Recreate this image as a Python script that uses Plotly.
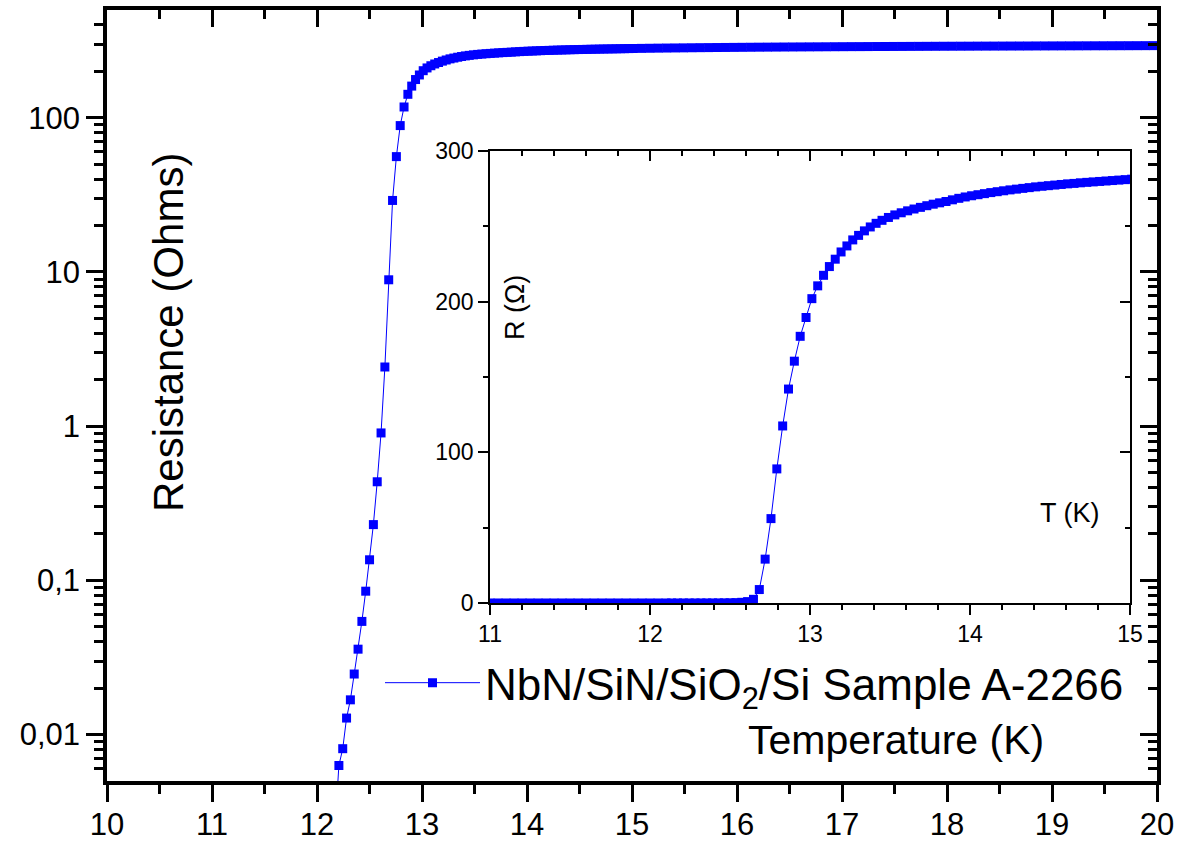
import math
import plotly.graph_objects as go

# ---------------- data ----------------
# superconducting state: resistance essentially zero (below the log-axis floor)
T_flat = [11.00, 11.05, 11.10, 11.15, 11.20, 11.25, 11.30, 11.35, 11.40, 11.45,
          11.50, 11.55, 11.60, 11.65, 11.70, 11.75, 11.80, 11.85, 11.90, 11.95,
          12.00, 12.05, 12.10, 12.135]
R_flat = [0.001, 0.001, 0.001, 0.001, 0.001, 0.001, 0.001, 0.001, 0.001, 0.001,
          0.001, 0.001, 0.001, 0.001, 0.001, 0.001, 0.001, 0.001, 0.001, 0.001,
          0.0011, 0.0012, 0.0015, 0.002]

# transition region (individual markers visible)
T_trans = [12.172, 12.2085, 12.245, 12.2815, 12.318, 12.3545, 12.391, 12.4275,
           12.464, 12.5005, 12.537, 12.5735, 12.61, 12.6465, 12.683, 12.7195,
           12.756, 12.7925, 12.829, 12.8655, 12.902, 12.9385, 12.975, 13.0115,
           13.048, 13.0845, 13.121, 13.1575, 13.194, 13.2305, 13.267, 13.3035,
           13.34, 13.3765]
R_trans = [0.0025, 0.0063, 0.0081, 0.0128, 0.0168, 0.0247, 0.0358, 0.0542,
           0.0851, 0.136, 0.230, 0.436, 0.904, 2.42, 8.9, 29.1,
           56.0, 89.0, 117.5, 142.0, 160.5, 177.0, 189.5, 202.0,
           210.5, 217.5, 223.3, 228.2, 233.0, 237.0, 241.0, 244.0,
           247.0, 249.6]

# normal state
T_norm = [13.413, 13.45, 13.49, 13.53, 13.57, 13.61, 13.65, 13.69, 13.73, 13.77,
          13.81, 13.85, 13.89, 13.93, 13.97, 14.01, 14.05, 14.09, 14.13, 14.17,
          14.21, 14.25, 14.29, 14.33, 14.37, 14.41, 14.45, 14.49, 14.53, 14.57,
          14.61, 14.65, 14.69, 14.73, 14.77, 14.81, 14.85, 14.89, 14.93, 14.97,
          15.01, 15.09, 15.17, 15.25, 15.33, 15.41, 15.49, 15.57, 15.65, 15.73,
          15.81, 15.89, 15.97, 16.05, 16.13, 16.21, 16.29, 16.37, 16.45, 16.53,
          16.61, 16.69, 16.77, 16.85, 16.93, 17.01, 17.09, 17.17, 17.25, 17.33,
          17.41, 17.49, 17.57, 17.65, 17.73, 17.81, 17.89, 17.97, 18.05, 18.13,
          18.21, 18.29, 18.37, 18.45, 18.53, 18.61, 18.69, 18.77, 18.85, 18.93,
          19.01, 19.09, 19.17, 19.25, 19.33, 19.41, 19.49, 19.57, 19.65, 19.73,
          19.81, 19.89, 19.97, 20.05]
R_norm = [252.0, 254.0, 255.9, 257.6, 259.0, 260.3, 261.5, 262.6, 263.7, 264.7,
          265.6, 266.5, 267.6, 268.6, 269.5, 270.3, 271.0, 271.7, 272.4, 273.0,
          273.6, 274.2, 274.7, 275.2, 275.7, 276.2, 276.6, 277.0, 277.4, 277.8,
          278.2, 278.5, 278.9, 279.2, 279.5, 279.8, 280.1, 280.4, 280.7, 281.0,
          281.3, 281.9, 282.4, 282.9, 283.3, 283.7, 284.1, 284.5, 284.9, 285.2,
          285.5, 285.8, 286.1, 286.4, 286.7, 287.0, 287.2, 287.4, 287.7, 287.9,
          288.1, 288.3, 288.5, 288.7, 288.9, 289.1, 289.3, 289.4, 289.6, 289.8,
          289.9, 290.1, 290.2, 290.4, 290.5, 290.7, 290.8, 291.0, 291.1, 291.2,
          291.3, 291.5, 291.6, 291.7, 291.8, 291.9, 292.0, 292.1, 292.3, 292.4,
          292.5, 292.6, 292.7, 292.8, 292.9, 293.0, 293.1, 293.2, 293.3, 293.4,
          293.5, 293.6, 293.7, 293.8]

# axis ticks / labels
main_x_range = [10, 20]
main_y_range = [0.005, 500]
main_y_tickvals = [0.01, 0.1, 1, 10, 100]
main_y_ticktext = ["0,01", "0,1", "1", "10", "100"]
main_y_minor = [0.006, 0.007, 0.008, 0.009,
                0.02, 0.03, 0.04, 0.05, 0.06, 0.07, 0.08, 0.09,
                0.2, 0.3, 0.4, 0.5, 0.6, 0.7, 0.8, 0.9,
                2, 3, 4, 5, 6, 7, 8, 9,
                20, 30, 40, 50, 60, 70, 80, 90,
                200, 300, 400]
inset_x_range = [11, 15]
inset_y_range = [0, 300]

legend_name = "NbN/SiN/SiO<sub>2</sub>/Si Sample A-2266"

T_all = T_flat + T_trans + T_norm
R_all = R_flat + R_trans + R_norm

BLUE = "#0000FF"
FONT = "Arial, 'Liberation Sans', sans-serif"

fig = go.Figure()
fig.add_trace(go.Scatter(
    x=T_all, y=R_all, mode="lines+markers", name=legend_name,
    line=dict(color=BLUE, width=1),
    marker=dict(symbol="square", size=9, color=BLUE, line=dict(width=0)),
    xaxis="x", yaxis="y", showlegend=True))
fig.add_trace(go.Scatter(
    x=T_all, y=R_all, mode="lines+markers", name=legend_name,
    line=dict(color=BLUE, width=1),
    marker=dict(symbol="square", size=9, color=BLUE, line=dict(width=0)),
    xaxis="x2", yaxis="y2", showlegend=False))

# empty helper traces so that the mirrored (inside-tick) frame axes are drawn
for xa, ya in (("x3", "y"), ("x", "y3"), ("x4", "y2"), ("x2", "y4")):
    fig.add_trace(go.Scatter(x=[None], y=[None], mode="markers", xaxis=xa, yaxis=ya,
                             showlegend=False, hoverinfo="skip"))

main_common = dict(showline=True, linecolor="black", linewidth=3.5, showgrid=False,
                   zeroline=False, tickcolor="black", tickwidth=3, ticklen=17,
                   automargin=False,
                   tickfont=dict(size=31, color="black", family=FONT))
inset_common = dict(showline=True, linecolor="black", linewidth=1.8, showgrid=False,
                    zeroline=False, tickcolor="black", tickwidth=1.5, ticklen=10,
                    automargin=False,
                    tickfont=dict(size=23, color="black", family=FONT))

ylog = [math.log10(main_y_range[0]), math.log10(main_y_range[1])]

fig.update_layout(
    width=1182, height=841, autosize=False,
    margin=dict(l=107, r=25, t=10, b=60, pad=0, autoexpand=False),
    paper_bgcolor="white", plot_bgcolor="white",
    font=dict(family=FONT, color="black"),
    xaxis=dict(**main_common, domain=[0, 1], anchor="y", range=main_x_range,
               tick0=10, dtick=1, ticks="outside", ticklabelstandoff=-4,
               minor=dict(dtick=0.5, tick0=10, ticks="outside", ticklen=9,
                          tickwidth=3, tickcolor="black")),
    yaxis=dict(**main_common, domain=[0, 1], anchor="x", type="log", range=ylog,
               tickmode="array", tickvals=main_y_tickvals, ticktext=main_y_ticktext,
               ticks="outside",
               minor=dict(tickmode="array", tickvals=main_y_minor, ticks="outside",
                          ticklen=9, tickwidth=3, tickcolor="black")),
    xaxis3=dict(**main_common, overlaying="x", side="top", anchor="y",
                range=main_x_range, tick0=10, dtick=1, ticks="inside",
                showticklabels=False,
                minor=dict(dtick=0.5, tick0=10, ticks="inside", ticklen=9,
                           tickwidth=3, tickcolor="black")),
    yaxis3=dict(**main_common, overlaying="y", side="right", anchor="x",
                type="log", range=ylog, tickmode="array", tickvals=main_y_tickvals,
                ticks="inside", showticklabels=False,
                minor=dict(tickmode="array", tickvals=main_y_minor, ticks="inside",
                           ticklen=9, tickwidth=3, tickcolor="black")),
    xaxis2=dict(**inset_common, domain=[0.3648, 0.9743], anchor="y2",
                range=inset_x_range, tick0=11, dtick=1, ticks="outside",
                minor=dict(dtick=0.2, tick0=11, ticks="outside", ticklen=5,
                           tickwidth=1.5, tickcolor="black")),
    yaxis2=dict(**inset_common, domain=[0.2309, 0.8171], anchor="x2",
                range=inset_y_range, tick0=0, dtick=100, ticks="outside",
                minor=dict(dtick=50, tick0=0, ticks="outside", ticklen=5,
                           tickwidth=1.5, tickcolor="black")),
    xaxis4=dict(**inset_common, overlaying="x2", side="top", anchor="y2",
                range=inset_x_range, tick0=11, dtick=1,
                ticks="inside", showticklabels=False,
                minor=dict(dtick=0.2, tick0=11, ticks="inside", ticklen=5,
                           tickwidth=1.5, tickcolor="black")),
    yaxis4=dict(**inset_common, overlaying="y2", side="right", anchor="x2",
                range=inset_y_range, tick0=0, dtick=100,
                ticks="inside", showticklabels=False,
                minor=dict(dtick=50, tick0=0, ticks="inside", ticklen=5,
                           tickwidth=1.5, tickcolor="black")),
    legend=dict(x=0.26, y=0.127, xanchor="left", yanchor="middle",
                bgcolor="rgba(0,0,0,0)", borderwidth=0, itemwidth=95,
                font=dict(size=44, color="black", family=FONT)),
    showlegend=True,
)

fig.add_annotation(text="Resistance (Ohms)", textangle=-90, xref="paper", yref="paper",
                   x=0.0581, y=0.581, xanchor="center", yanchor="middle", showarrow=False,
                   font=dict(size=42, color="black", family=FONT))
fig.add_annotation(text="Temperature (K)", xref="paper", yref="paper",
                   x=0.7514, y=0.0532, xanchor="center", yanchor="middle", showarrow=False,
                   font=dict(size=41, color="black", family=FONT))
fig.add_annotation(text="R (\u03a9)", textangle=-90, xref="paper", yref="paper",
                   x=0.3886, y=0.6135, xanchor="center", yanchor="middle", showarrow=False,
                   font=dict(size=27, color="black", family=FONT))
fig.add_annotation(text="T (K)", xref="paper", yref="paper",
                   x=0.9171, y=0.3476, xanchor="center", yanchor="middle", showarrow=False,
                   font=dict(size=27, color="black", family=FONT))

fig.write_html("out.html")
